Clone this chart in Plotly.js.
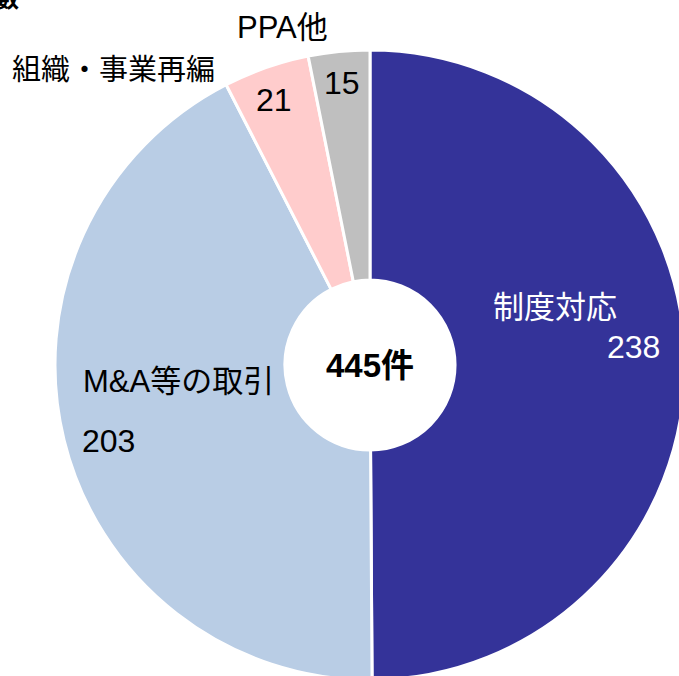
<!DOCTYPE html>
<html>
<head>
<meta charset="utf-8">
<script src="https://cdn.plot.ly/plotly-3.0.1.min.js"></script>
<style>
  html, body { margin: 0; padding: 0; overflow: hidden; background: #fff; }
  #chart { width: 720px; height: 720px; }
</style>
</head>
<body>
<div id="chart"></div>
<script>
// ---- data ----
const categories = ['制度対応', 'M&A等の取引', '組織・事業再編', 'PPA他'];
const counts = [238, 203, 21, 15];
const centerLabel = '445件';
const titleText = '件数';

// ---- styles ----
const colors = ['#343399', '#B9CDE5', '#FFCCCC', '#BFBFBF'];
const W = 720, H = 720;
const FONT = 'Liberation Sans, Arial, Noto Sans CJK JP, sans-serif';
const px = (x) => x / W;
const py = (y) => 1 - y / H;

// label placements (pixel centres) for name and value of each slice
const namePos = [
  {x: 555, y: 307, color: '#ffffff', size: 31, xanchor: 'center'},
  {x: 178, y: 381, color: '#000000', size: 31, xanchor: 'center'},
  {x: 113, y: 70,  color: '#000000', size: 29, xanchor: 'center'},
  {x: 282, y: 28,  color: '#000000', size: 31, xanchor: 'center'}
];
const valuePos = [
  {x: 662, y: 347, color: '#ffffff', xanchor: 'right'},
  {x: 80,  y: 441, color: '#000000', xanchor: 'left'},
  {x: 274, y: 100, color: '#000000', xanchor: 'center'},
  {x: 342, y: 83,  color: '#000000', xanchor: 'center'}
];

const annotations = [];
categories.forEach((c, i) => {
  annotations.push({
    text: c, x: px(namePos[i].x), y: py(namePos[i].y), xref: 'paper', yref: 'paper',
    xanchor: namePos[i].xanchor, yanchor: 'middle', showarrow: false,
    font: {family: FONT, size: namePos[i].size, color: namePos[i].color}
  });
  annotations.push({
    text: String(counts[i]), x: px(valuePos[i].x), y: py(valuePos[i].y), xref: 'paper', yref: 'paper',
    xanchor: valuePos[i].xanchor, yanchor: 'middle', showarrow: false,
    font: {family: FONT, size: 32, color: valuePos[i].color}
  });
});
annotations.push({
  text: '<b>' + centerLabel + '</b>', x: px(370), y: py(365), xref: 'paper', yref: 'paper',
  xanchor: 'center', yanchor: 'middle', showarrow: false,
  font: {family: FONT, size: 33, color: '#000000'}
});
annotations.push({
  text: '<b>' + titleText + '</b>', x: px(21), y: py(14), xref: 'paper', yref: 'paper',
  xanchor: 'right', yanchor: 'bottom', showarrow: false,
  font: {family: FONT, size: 22, color: '#000000'}
});

const trace = {
  type: 'pie',
  labels: categories,
  values: counts,
  sort: false,
  direction: 'clockwise',
  rotation: 0,
  hole: 0.27,
  textinfo: 'none',
  hoverinfo: 'label+value',
  marker: {colors: colors, line: {color: '#ffffff', width: 3}},
  domain: {x: [px(55), px(685)], y: [py(680), py(50)]}
};

const layout = {
  width: W, height: H,
  margin: {l: 0, r: 0, t: 0, b: 0, pad: 0},
  showlegend: false,
  paper_bgcolor: '#ffffff',
  annotations: annotations
};

Plotly.newPlot('chart', [trace], layout, {displayModeBar: false, staticPlot: true});
</script>
</body>
</html>
